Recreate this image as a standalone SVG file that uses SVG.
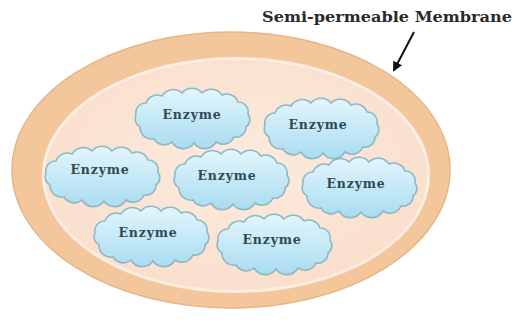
<svg xmlns="http://www.w3.org/2000/svg" width="517" height="329" viewBox="0 0 517 329">
<style>
.lbl{font-family:"DejaVu Serif","Liberation Serif",serif;font-weight:bold;font-size:12.5px;letter-spacing:0.8px;fill:#2E4A56;text-anchor:middle}
.title{font-family:"DejaVu Serif","Liberation Serif",serif;font-weight:bold;font-size:14px;fill:#2a2a2a}
.cloud{fill:url(#cg);stroke:#8DB8C6;stroke-width:1.6}
</style>
<defs>
<linearGradient id="cg" x1="0" y1="0" x2="0" y2="1">
<stop offset="0" stop-color="#E3F6FC"/>
<stop offset="1" stop-color="#A9DCF1"/>
</linearGradient>
<radialGradient id="ig" cx="0.5" cy="0.45" r="0.55">
<stop offset="0" stop-color="#FCEBDF"/>
<stop offset="1" stop-color="#FADFCC"/>
</radialGradient>
<path id="cl" d="M8,40 A9,9 0 0 1 4,28 A10,10 0 0 1 14,16 A12,12 0 0 1 30,9 A13,13 0 0 1 50,6 A13,13 0 0 1 70,6 A13,13 0 0 1 90,8 A12,12 0 0 1 106,15 A10,10 0 0 1 116,27 A9,9 0 0 1 114,40 A10,10 0 0 1 102,50 A12,12 0 0 1 84,55 A13,13 0 0 1 62,56 A13,13 0 0 1 40,55 A12,12 0 0 1 22,52 A12,12 0 0 1 8,40 Z"/>
<marker id="ah" viewBox="0 0 10 10" refX="8" refY="5" markerWidth="5" markerHeight="5" orient="auto">
<path d="M0,0 L10,5 L0,10 Z" fill="#111"/>
</marker>
</defs>
<rect width="517" height="329" fill="#fff"/>
<g id="membrane">
<ellipse cx="231" cy="170" rx="219" ry="138" fill="#F3C79B" stroke="#E6B588" stroke-width="1.5"/>
<ellipse cx="236" cy="175" rx="194" ry="118" fill="#FCEDE3"/>
<ellipse cx="236" cy="175" rx="191" ry="115" fill="url(#ig)"/>
</g>
<g id="enzyme1"><use href="#cl" class="cloud" transform="translate(132,87)"/><text class="lbl" x="192" y="119">Enzyme</text></g>
<g id="enzyme2"><use href="#cl" class="cloud" transform="translate(261,97)"/><text class="lbl" x="318" y="129">Enzyme</text></g>
<g id="enzyme3"><use href="#cl" class="cloud" transform="translate(42,145)"/><text class="lbl" x="100" y="174">Enzyme</text></g>
<g id="enzyme4"><use href="#cl" class="cloud" transform="translate(171,148)"/><text class="lbl" x="227" y="180">Enzyme</text></g>
<g id="enzyme5"><use href="#cl" class="cloud" transform="translate(299,156)"/><text class="lbl" x="356" y="188">Enzyme</text></g>
<g id="enzyme6"><use href="#cl" class="cloud" transform="translate(91,205)"/><text class="lbl" x="148" y="237">Enzyme</text></g>
<g id="enzyme7"><use href="#cl" class="cloud" transform="translate(214,213)"/><text class="lbl" x="272" y="244">Enzyme</text></g>
<g id="label"><text class="title" x="262" y="22" textLength="250" lengthAdjust="spacingAndGlyphs">Semi-permeable Membrane</text></g>
<g id="connectors">
<line x1="414" y1="32" x2="394" y2="70" stroke="#111" stroke-width="2" marker-end="url(#ah)"/>
</g>
</svg>
